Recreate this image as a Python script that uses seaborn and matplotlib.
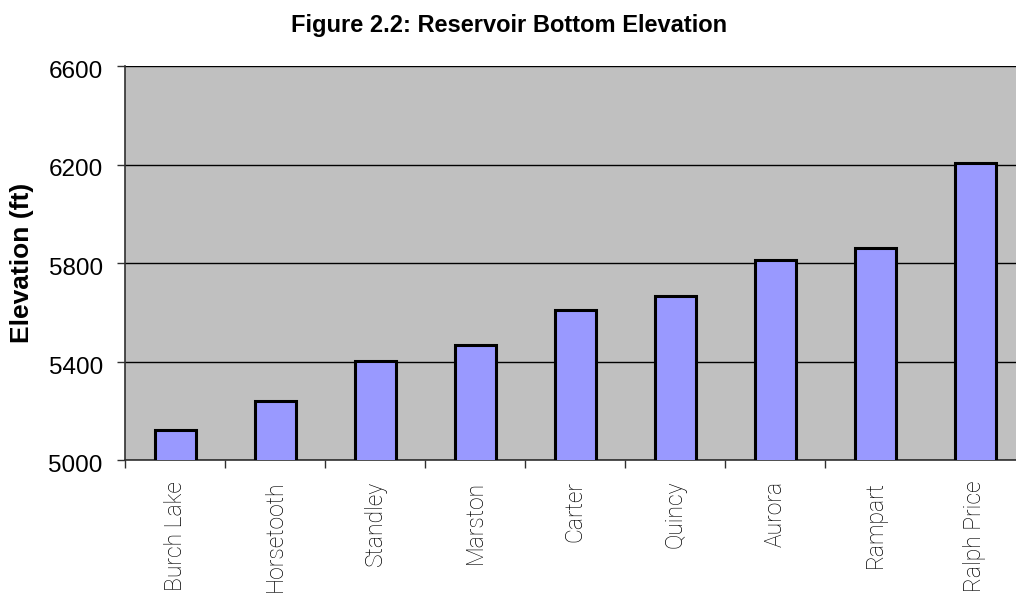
import matplotlib
matplotlib.use("Agg")
import matplotlib.pyplot as plt
import matplotlib.transforms as mtransforms
import seaborn as sns
import numpy as np

# Reservoir bottom elevations (ft)
reservoirs = ["Burch Lake", "Horsetooth", "Standley", "Marston", "Carter",
              "Quincy", "Aurora", "Rampart", "Ralph Price"]
elevation_ft = [5120, 5240, 5402, 5465, 5610, 5667, 5812, 5859, 6205]
y_ticks = [5000, 5400, 5800, 6200, 6600]

sns.set_style("white")
plt.rcParams["font.family"] = ["Liberation Sans", "DejaVu Sans"]
for key in ["text.color", "axes.labelcolor", "xtick.color", "ytick.color"]:
    plt.rcParams[key] = "black"

fig = plt.figure(figsize=(10.16, 5.97), dpi=100)
ax = fig.add_axes([125 / 1016, 1 - 460 / 597, 900 / 1016, 394 / 597])
ax.set_facecolor("#C0C0C0")

sns.barplot(x=reservoirs, y=elevation_ft, color="#9999FF", saturation=1,
            edgecolor="black", linewidth=2.2, width=0.41, ax=ax, zorder=3)

ax.set_ylim(y_ticks[0], y_ticks[-1])
ax.set_xlim(-0.5, len(reservoirs) - 0.5)
ax.set_yticks(y_ticks)
ax.set_yticklabels([str(v) for v in y_ticks], fontsize=17.5)
ax.grid(axis="y", color="black", linewidth=1.0, zorder=1)
ax.grid(axis="x", visible=False)
ax.set_axisbelow(True)

# Category labels centered on bars, tick marks between categories
ax.set_xticks(np.arange(len(reservoirs)))
ax.set_xticklabels(reservoirs, rotation=90, fontsize=16.5,
                   family=["Roboto", "DejaVu Sans"], fontweight="light")
ax.tick_params(axis="x", which="major", length=0, pad=15)
ax.set_xticks(np.arange(len(reservoirs) - 1) - 0.5, minor=True)
ax.tick_params(axis="x", which="minor", direction="out", length=6,
               width=1, color="#303030", bottom=True)
ax.tick_params(axis="y", direction="out", length=6, width=1,
               color="#303030", pad=10, left=True)

# Shift value labels slightly below their gridlines
offset = mtransforms.ScaledTranslation(0, -3.5 / 100, fig.dpi_scale_trans)
for lbl in ax.get_yticklabels():
    lbl.set_transform(lbl.get_transform() + offset)

for side in ["top", "right"]:
    ax.spines[side].set_visible(False)
for side in ["left", "bottom"]:
    ax.spines[side].set_color("#303030")
    ax.spines[side].set_linewidth(1.2)

ax.set_xlabel("")
ax.set_ylabel("")
fig.text(22 / 1016, 1 - 263 / 597, "Elevation (ft)", rotation=90,
         ha="center", va="center", fontsize=19, fontweight="bold")
fig.text(509 / 1016, 1 - 32 / 597, "Figure 2.2: Reservoir Bottom Elevation",
         ha="center", va="baseline", fontsize=17, fontweight="bold")

fig.savefig("out.png", dpi=100)
